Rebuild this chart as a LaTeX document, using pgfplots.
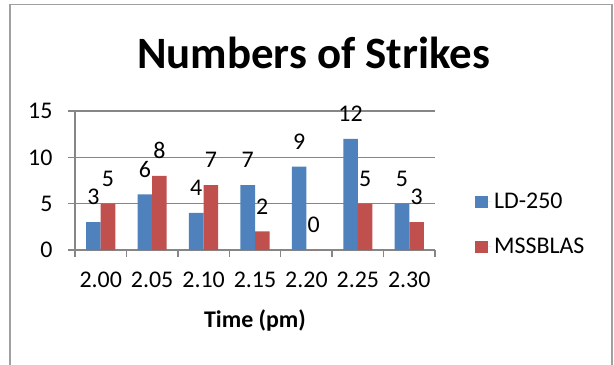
\documentclass[border=0pt]{standalone}
\usepackage{pgfplots}
\pgfplotsset{compat=1.18}
\usepackage{fontspec}
\setmainfont{Carlito}
\definecolor{xlblue}{HTML}{4F81BD}
\definecolor{xlred}{HTML}{C0504D}
\definecolor{gridgray}{HTML}{868686}
\definecolor{framegray}{HTML}{A0A0A0}
\newcommand{\lblfont}{\fontsize{24}{28}\selectfont}
\begin{document}
\begin{tikzpicture}[x=1bp,y=1bp]
\path[use as bounding box] (0,0) rectangle (614,364);
\draw[color=framegray, line width=1.5bp] (10,-10) -- (10,359.5) -- (612,359.5) -- (612,-10);
\node[font=\fontsize{45}{52}\selectfont\bfseries, anchor=base] at (313.5,295.7) {Numbers of Strikes};
\begin{axis}[
  at={(75bp,114bp)}, anchor=south west,
  scale only axis, width=360bp, height=139bp,
  xmin=-0.5, xmax=6.5, ymin=0, ymax=15,
  ybar=0pt, bar width=14.6bp,
  /pgf/number format/assume math mode=true,
  axis x line*=bottom, axis y line*=left,
  x axis line style={gridgray, line width=1.5bp},
  y axis line style={gridgray, line width=1.5bp},
  xtick={0,...,6},
  xticklabels={2.00,2.05,2.10,2.15,2.20,2.25,2.30},
  minor xtick={-0.5,0.5,...,6.5},
  ytick={0,5,10,15},
  tick align=outside,
  major tick length=7bp, minor tick length=7bp,
  every tick/.style={gridgray, line width=1.5bp},
  major x tick style={draw=none},
  ymajorgrids, grid style={gridgray, line width=1.5bp},
  tick label style={font=\lblfont},
  xticklabel style={anchor=base, yshift=-30.7bp},
  yticklabel style={xshift=-12bp},
  xlabel={\textbf{Time (pm)}},
  xlabel style={font=\lblfont, at={(axis description cs:0.5,-0.561)}, anchor=base},
  nodes near coords,
  every node near coord/.append style={font=\lblfont, anchor=center, yshift=25bp, black},
  legend style={at={(1.111,0.187)}, anchor=west, draw=none, fill=none, font=\lblfont, row sep=24bp, inner sep=0pt},
  legend cell align=left,
  legend image code/.code={\fill[#1] (0bp,-6bp) rectangle (13bp,6bp); \path (0bp,0bp) -- (17bp,0bp);},
]
\addplot[fill=xlblue, draw=none] coordinates {(0,3) (1,6) (2,4) (3,7) (4,9) (5,12) (6,5)};
\addplot[fill=xlred, draw=none] coordinates {(0,5) (1,8) (2,7) (3,2) (4,0) (5,5) (6,3)};
\legend{LD-250,MSSBLAS}
\end{axis}
\end{tikzpicture}
\end{document}
